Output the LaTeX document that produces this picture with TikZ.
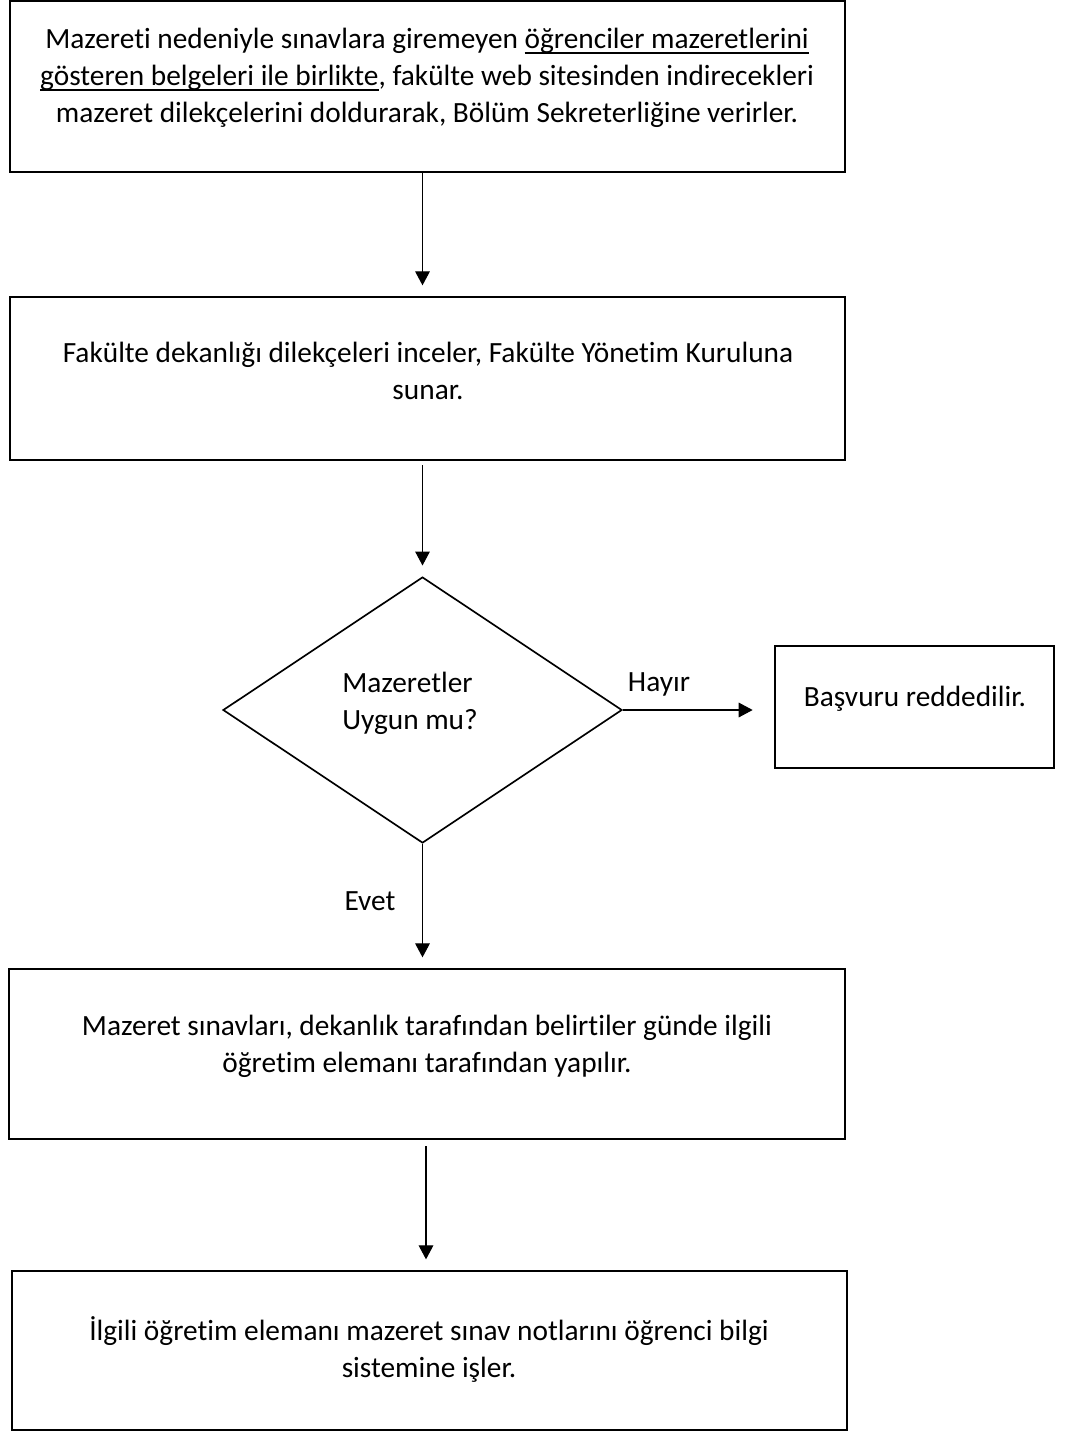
\documentclass[tikz,border=0pt]{standalone}
\usepackage{fontspec}
\setmainfont{Carlito}[Ligatures=NoCommon]
\usetikzlibrary{arrows.meta,shapes.geometric}
\newcommand\myul[1]{\setbox0\hbox{#1}\rlap{\rule[-4.1pt]{\wd0}{1.4pt}}\box0}
\begin{document}
\begin{tikzpicture}[x=0.75pt,y=-0.75pt,
  box/.style={draw,line width=1.5pt,inner sep=0pt},
  dia/.style={draw,diamond,line width=1.25pt,inner sep=0pt},
  txt/.style={align=center,font=\fontsize{22}{27.75}\selectfont,inner sep=0pt},
  lbl/.style={font=\fontsize{22}{27.75}\selectfont,inner sep=0pt},
  conn/.style={line width=0.8pt,-{Triangle[length=10.5pt,width=11pt]},shorten >=8pt}]
\useasboundingbox (0,0) rectangle (1067,1439);
% boxes
\node[box,minimum width=626.25pt,minimum height=128.25pt] (b1) at (427.5,86.5) {};
\node[box,minimum width=626.25pt,minimum height=122.25pt] (b2) at (427.5,378.5) {};
\node[dia,minimum width=299.25pt,minimum height=199.5pt] (d) at (422.5,710) {};
\node[box,minimum width=209.25pt,minimum height=91.5pt] (b5) at (914.5,707) {};
\node[box,minimum width=627pt,minimum height=127.5pt] (b3) at (427,1054) {};
\node[box,minimum width=626.25pt,minimum height=119.25pt] (b4) at (429.5,1350.5) {};
% texts
\node[txt] (t1) at (427,78) {Mazereti nedeniyle sınavlara giremeyen \myul{öğrenciler mazeretlerini}\\
\myul{gösteren belgeleri ile birlikte}, fakülte web sitesinden indirecekleri\\
mazeret dilekçelerini doldurarak, Bölüm Sekreterliğine verirler.};
\node[txt] (t2) at (428,370.5) {Fakülte dekanlığı dilekçeleri inceler, Fakülte Yönetim Kuruluna\\ sunar.};
\node[txt,align=left] (td) at (410,703) {Mazeretler\\ Uygun mu?};
\node[lbl] (t5) at (915,699) {Başvuru reddedilir.};
\node[txt] (t3) at (427,1046) {Mazeret sınavları, dekanlık tarafından belirtiler günde ilgili\\ öğretim elemanı tarafından yapılır.};
\node[txt] (t4) at (429,1349) {İlgili öğretim elemanı mazeret sınav notlarını öğrenci bilgi\\ sistemine işler.};
\node[lbl] (hay) at (659,684) {Hayır};
\node[lbl] (evet) at (370,901) {Evet};
% connectors
\draw[conn] (b1.south -| d.north) -- (b2.north -| d.north);
\draw[conn,shorten <=3pt] (b2.south -| d.north) -- (d.north);
\draw[conn,shorten >=16pt] (d.east) -- (d.east -| b5.west);
\draw[conn] (d.south) -- (b3.north -| d.south);
\draw[conn,shorten <=4.5pt] ([xshift=-0.75pt]b3.south) -- ([xshift=-0.75pt]b3.south |- b4.north);
\end{tikzpicture}
\end{document}
